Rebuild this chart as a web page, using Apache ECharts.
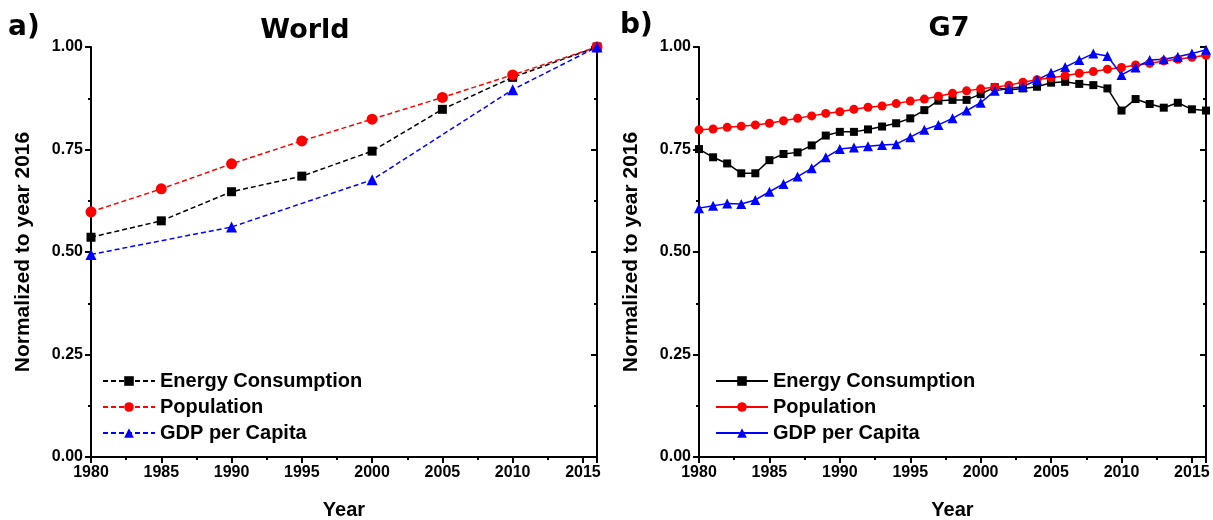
<!DOCTYPE html>
<html>
<head>
<meta charset="utf-8">
<script src="https://cdn.jsdelivr.net/npm/echarts@6/dist/echarts.min.js"></script>
<style>
  html, body { margin: 0; padding: 0; background: #fff; }
  #main { width: 1213px; height: 520px; }
</style>
</head>
<body>
<div id="main"></div>
<script>
// World (a) - values normalized to 2016
const worldYears = [1980, 1985, 1990, 1995, 2000, 2005, 2010, 2016];
const worldEnergy = [0.536, 0.576, 0.647, 0.685, 0.746, 0.848, 0.926, 1.0];
const worldPopulation = [0.598, 0.654, 0.715, 0.771, 0.824, 0.877, 0.932, 1.0];
const worldGdpYears = [1980, 1990, 2000, 2010, 2016];
const worldGdp = [0.494, 0.561, 0.676, 0.896, 1.0];

// G7 (b) - yearly
const g7Years = [1980, 1981, 1982, 1983, 1984, 1985, 1986, 1987, 1988, 1989,
  1990, 1991, 1992, 1993, 1994, 1995, 1996, 1997, 1998, 1999,
  2000, 2001, 2002, 2003, 2004, 2005, 2006, 2007, 2008, 2009,
  2010, 2011, 2012, 2013, 2014, 2015, 2016];
const g7Energy = [0.751, 0.731, 0.716, 0.692, 0.692, 0.724, 0.739, 0.743, 0.760, 0.784,
  0.793, 0.793, 0.799, 0.806, 0.814, 0.826, 0.846, 0.869, 0.871, 0.871,
  0.885, 0.902, 0.895, 0.899, 0.903, 0.913, 0.915, 0.910, 0.907, 0.899,
  0.845, 0.873, 0.861, 0.852, 0.864, 0.848, 0.845];
const g7Population = [0.798, 0.800, 0.804, 0.807, 0.810, 0.814, 0.820, 0.826, 0.832, 0.838,
  0.842, 0.848, 0.853, 0.856, 0.862, 0.868, 0.873, 0.880, 0.887, 0.893,
  0.898, 0.902, 0.907, 0.914, 0.920, 0.925, 0.930, 0.936, 0.940, 0.946,
  0.950, 0.956, 0.960, 0.966, 0.970, 0.975, 0.980];
const g7Gdp = [0.607, 0.613, 0.618, 0.617, 0.627, 0.647, 0.666, 0.684, 0.704, 0.731,
  0.751, 0.755, 0.758, 0.761, 0.763, 0.780, 0.798, 0.810, 0.826, 0.845,
  0.864, 0.893, 0.899, 0.903, 0.920, 0.937, 0.951, 0.968, 0.984, 0.978,
  0.932, 0.950, 0.968, 0.970, 0.976, 0.984, 0.993];

const seriesNames = ['Energy Consumption', 'Population', 'GDP per Capita'];
const colors = ['#000000', '#ff0000', '#0000ff'];
const symbols = ['rect', 'circle', 'triangle'];

const font = '"Liberation Sans", Arial, sans-serif';
const lineBlack = { color: '#000', width: 2 };

let pair = (xs, ys) => xs.map((x, i) => [x, ys[i]]);

// bottom x axis with labels
let xBottom = (grid) => ({
  type: 'value', gridIndex: grid, min: 1980, max: 2016, interval: 5,
  name: 'Year', nameLocation: 'middle', nameGap: 43,
  nameTextStyle: { fontFamily: font, fontWeight: 'bold', fontSize: 20, color: '#000' },
  axisLine: { lineStyle: lineBlack },
  axisTick: { length: 6, lineStyle: lineBlack },
  minorTick: { show: true, splitNumber: 2, length: 3, lineStyle: lineBlack },
  axisLabel: { showMaxLabel: false, margin: 8, fontFamily: font, fontWeight: 'bold', fontSize: 16, color: '#000',
    formatter: v => String(v) },
  splitLine: { show: false }
});
// top frame line
let xTop = (grid) => ({
  type: 'value', gridIndex: grid, position: 'top', min: 1980, max: 2016,
  axisLine: { show: true, lineStyle: lineBlack },
  axisTick: { show: false }, axisLabel: { show: false }, splitLine: { show: false }
});
let yLeft = (grid) => ({
  type: 'value', gridIndex: grid, min: 0, max: 1, interval: 0.25,
  name: 'Normalized to year 2016', nameLocation: 'middle', nameGap: 57,
  nameTextStyle: { fontFamily: font, fontWeight: 'bold', fontSize: 21, color: '#000' },
  axisLine: { show: true, lineStyle: lineBlack },
  axisTick: { show: true, length: 6, lineStyle: lineBlack },
  minorTick: { show: true, splitNumber: 2, length: 3, lineStyle: lineBlack },
  axisLabel: { margin: 8, fontFamily: font, fontWeight: 'bold', fontSize: 16, color: '#000',
    formatter: v => v.toFixed(2) },
  splitLine: { show: false }
});
// right frame with inward ticks
let yRight = (grid) => ({
  type: 'value', gridIndex: grid, position: 'right', min: 0, max: 1, interval: 0.25,
  axisLine: { show: true, lineStyle: lineBlack },
  axisTick: { show: true, inside: true, length: 6, lineStyle: lineBlack },
  minorTick: { show: true, splitNumber: 2, length: 3, lineStyle: lineBlack },
  axisLabel: { show: false }, splitLine: { show: false }
});

let lineSeries = (name, data, idx, axis, dashed, size) => ({
  name: name, type: 'line', data: data,
  xAxisIndex: axis, yAxisIndex: axis,
  symbol: symbols[idx], symbolSize: size,
  itemStyle: { color: colors[idx] },
  lineStyle: { color: colors[idx], width: 1.5, type: dashed ? [5, 3] : 'solid' },
  clip: false,
  animation: false
});

let legendOpt = (left, names) => ({
  orient: 'vertical', left: left, top: 366,
  itemWidth: 52, itemHeight: 12, itemGap: 6,
  data: names,
  formatter: n => n.replace(/^G7 /, ''),
  textStyle: { fontFamily: font, fontWeight: 'bold', fontSize: 20, color: '#000', lineHeight: 20 }
});

const g7Names = seriesNames.map(n => 'G7 ' + n);

let option = {
  backgroundColor: '#fff',
  animation: false,
  grid: [
    { left: 91, top: 47, width: 506, height: 410, containLabel: false, outerBoundsMode: 'none' },
    { left: 699, top: 47, width: 507, height: 410, containLabel: false, outerBoundsMode: 'none' }
  ],
  xAxis: [xBottom(0), xTop(0), xBottom(1), xTop(1)],
  yAxis: [yLeft(0), yRight(0), yLeft(1), yRight(1)],
  legend: [legendOpt(97, seriesNames), legendOpt(710, g7Names)],
  graphic: [
    { type: 'text', x: 8, y: 28, style: { text: 'a)', font: 'bold 28px "DejaVu Sans"', textVerticalAlign: 'middle', fill: '#000' } },
    { type: 'text', x: 305, y: 31, style: { text: 'World', font: 'bold 27px "DejaVu Sans"', textAlign: 'center', textVerticalAlign: 'middle', fill: '#000' } },
    { type: 'text', x: 620, y: 26, style: { text: 'b)', font: 'bold 28px "DejaVu Sans"', textVerticalAlign: 'middle', fill: '#000' } },
    { type: 'text', x: 949, y: 29, style: { text: 'G7', font: 'bold 27px "DejaVu Sans"', textAlign: 'center', textVerticalAlign: 'middle', fill: '#000' } }
  ],
  series: [
    lineSeries(seriesNames[0], pair(worldYears, worldEnergy), 0, 0, true, 9),
    lineSeries(seriesNames[1], pair(worldYears, worldPopulation), 1, 0, true, 11),
    lineSeries(seriesNames[2], pair(worldGdpYears, worldGdp), 2, 0, true, 11),
    lineSeries(g7Names[0], pair(g7Years, g7Energy), 0, 2, false, 8),
    lineSeries(g7Names[1], pair(g7Years, g7Population), 1, 2, false, 9),
    lineSeries(g7Names[2], pair(g7Years, g7Gdp), 2, 2, false, 10)
  ]
};

let chart = echarts.init(document.getElementById('main'), null, { renderer: 'canvas' });
chart.setOption(option);
</script>
</body>
</html>
